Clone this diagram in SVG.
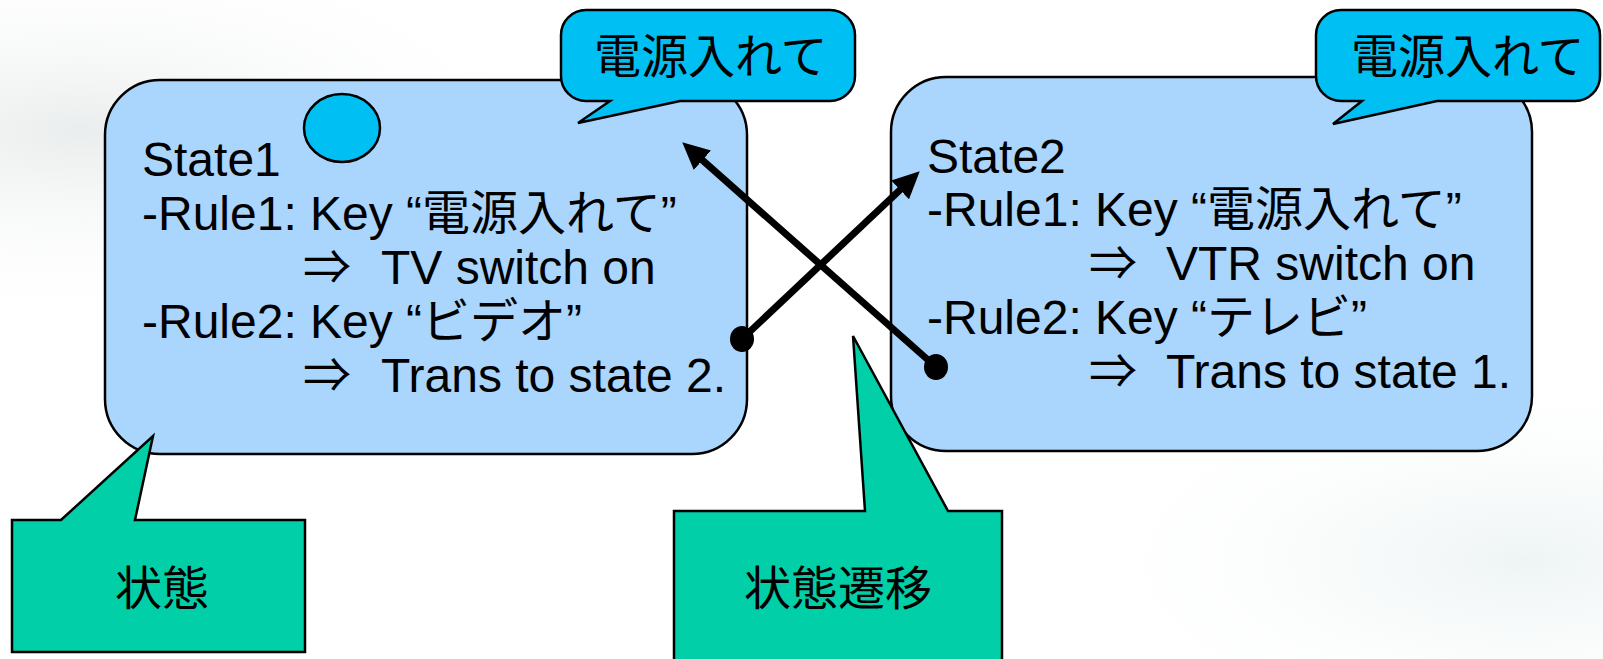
<svg xmlns="http://www.w3.org/2000/svg" width="1603" height="659" viewBox="0 0 1603 659">
  <defs>
    <style>
      .box { fill: #aad5fd; stroke: #000; stroke-width: 2.5; }
      .bubble { fill: #00bff3; stroke: #000; stroke-width: 2.5; stroke-linejoin: miter; }
      .note { fill: #00cfa8; stroke: #000; stroke-width: 2.5; stroke-linejoin: miter; }
      .t { font-family: "Liberation Sans", "Noto Sans CJK JP", sans-serif; font-size: 48px; fill: #000; }
      .j { font-family: "Noto Sans CJK JP", "Liberation Sans", sans-serif; font-size: 47px; fill: #000; }
      .conn { stroke: #000; stroke-width: 7; fill: none; marker-end: url(#head); }
      .dot { fill: #000; }
    </style>
    <marker id="head" markerUnits="userSpaceOnUse" markerWidth="27" markerHeight="26" refX="11" refY="13" orient="auto" viewBox="0 0 27 26">
      <path d="M0,0 L27,13 L0,26 Z" fill="#000"/>
    </marker>
    <radialGradient id="bgL" cx="0.05" cy="0.2" r="0.3">
      <stop offset="0" stop-color="#eaeded"/>
      <stop offset="1" stop-color="#ffffff" stop-opacity="0"/>
    </radialGradient>
    <radialGradient id="bgR" cx="0.95" cy="0.85" r="0.3">
      <stop offset="0" stop-color="#eef4f4"/>
      <stop offset="1" stop-color="#ffffff" stop-opacity="0"/>
    </radialGradient>
  </defs>

  <rect x="0" y="0" width="1603" height="659" fill="#ffffff"/>
  <rect x="0" y="0" width="1603" height="659" fill="url(#bgL)"/>
  <rect x="0" y="0" width="1603" height="659" fill="url(#bgR)"/>

  <g id="state1">
    <rect class="box" x="105" y="80" width="642" height="374" rx="55" ry="55"/>
    <ellipse cx="342" cy="128" rx="38" ry="34" fill="#00bff3" stroke="#000" stroke-width="2.5"/>
    <text class="t" x="142" y="176">State1</text>
    <text class="t" x="142" y="230">-Rule1: Key “電源入れて”</text>
    <text class="t" y="284"><tspan x="303">⇒</tspan><tspan x="381">TV switch on</tspan></text>
    <text class="t" x="142" y="338">-Rule2: Key “ビデオ”</text>
    <text class="t" y="392"><tspan x="303">⇒</tspan><tspan x="381">Trans to state 2.</tspan></text>
  </g>

  <g id="state2">
    <rect class="box" x="891" y="77" width="641" height="374" rx="55" ry="55"/>
    <text class="t" x="927" y="173">State2</text>
    <text class="t" x="927" y="226">-Rule1: Key “電源入れて”</text>
    <text class="t" y="280"><tspan x="1089">⇒</tspan><tspan x="1166">VTR switch on</tspan></text>
    <text class="t" x="927" y="334">-Rule2: Key “テレビ”</text>
    <text class="t" y="388"><tspan x="1089">⇒</tspan><tspan x="1166">Trans to state 1.</tspan></text>
  </g>

  <g id="bubble1">
    <path class="bubble" d="M586,10 H830 A25,25 0 0 1 855,35 V76 A25,25 0 0 1 830,101 H680 L578,123 L610,101 H586 A25,25 0 0 1 561,76 V35 A25,25 0 0 1 586,10 Z"/>
    <text class="j" x="594" y="73">電源入れて</text>
  </g>

  <g id="bubble2">
    <path class="bubble" d="M1341,10 H1575 A25,25 0 0 1 1600,35 V76 A25,25 0 0 1 1575,101 H1437 L1333,124 L1362,101 H1341 A25,25 0 0 1 1316,76 V35 A25,25 0 0 1 1341,10 Z"/>
    <text class="j" x="1351" y="73">電源入れて</text>
  </g>

  <g id="note-state">
    <path class="note" d="M12,520 H61 L153,436 L135,520 H305 V652 H12 Z"/>
    <text class="j" x="162" y="605" text-anchor="middle" font-size="49">状態</text>
  </g>

  <g id="note-transition">
    <path class="note" d="M674,511 H865 L853,336 L948,511 H1002 V670 H674 Z"/>
    <text class="j" x="838" y="605" text-anchor="middle" font-size="49">状態遷移</text>
  </g>

  <g id="connectors">
    <line class="conn" x1="742" y1="339" x2="908.1" y2="182.3"/>
    <ellipse class="dot" cx="742" cy="339" rx="12" ry="13"/>
    <line class="conn" x1="936" y1="367" x2="694.2" y2="152.9"/>
    <ellipse class="dot" cx="936" cy="367" rx="12" ry="13"/>
  </g>
</svg>
